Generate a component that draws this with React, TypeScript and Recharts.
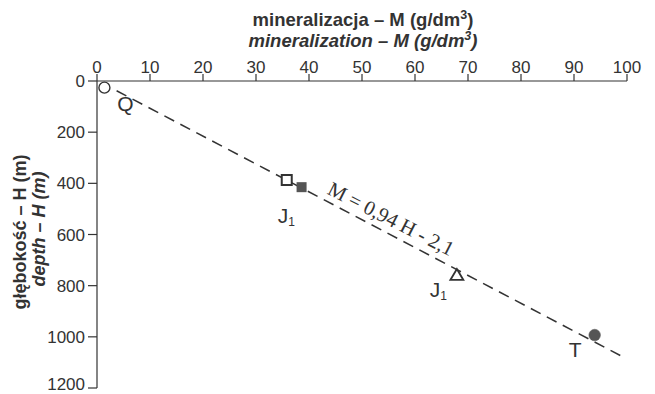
import React from "react";
import {
  ScatterChart,
  Scatter,
  XAxis,
  YAxis,
  ReferenceLine,
  Customized,
} from "recharts";

// mineralization M (g/dm3) vs depth H (m)
const xTicks = [0, 10, 20, 30, 40, 50, 60, 70, 80, 90, 100];
const yTicks = [0, 200, 400, 600, 800, 1000, 1200];

const quaternary = [{ x: 1.4, y: 26 }];
const jurassicOpen = [{ x: 35.8, y: 387 }];
const jurassicFilled = [{ x: 38.6, y: 415 }];
const jurassicTriangle = [{ x: 67.9, y: 758 }];
const triassic = [{ x: 93.9, y: 993 }];

const trendLine = [
  { x: 3.7, y: 38 },
  { x: 99.2, y: 1078 },
];

const pointLabels = [
  { x: 3.8, y: 117, text: "Q", sub: "" },
  { x: 34.1, y: 555, text: "J", sub: "1" },
  { x: 62.8, y: 844, text: "J", sub: "1" },
  { x: 89.0, y: 1079, text: "T", sub: "" },
];

const equation = [{ x: 54.9, y: 563, text: "M = 0,94 H - 2,1" }];

const INK = "#333";
const FILL = "#555";
const SANS = "'Liberation Sans', Arial, sans-serif";

const OpenCircle = (p: any) => (
  <circle cx={p.cx} cy={p.cy} r={5.5} fill="#fff" stroke={INK} strokeWidth={1.4} />
);
const FilledCircle = (p: any) => (
  <circle cx={p.cx} cy={p.cy} r={5.8} fill={FILL} stroke={FILL} strokeWidth={0.5} />
);
const OpenSquare = (p: any) => (
  <rect x={p.cx - 5} y={p.cy - 5} width={10} height={10} fill="#fff" stroke={INK} strokeWidth={2} />
);
const FilledSquare = (p: any) => (
  <rect x={p.cx - 5} y={p.cy - 5} width={10} height={10} fill={FILL} />
);
const OpenTriangle = (p: any) => (
  <path
    d={`M${p.cx},${p.cy - 6} L${p.cx + 6.5},${p.cy + 5} L${p.cx - 6.5},${p.cy + 5} Z`}
    fill="#fff"
    stroke={INK}
    strokeWidth={1.8}
  />
);

const PointLabel = (p: any) => (
  <text x={p.cx} y={p.cy} fill={INK} fontFamily={SANS} fontSize={21} textAnchor="start">
    {p.payload.text}
    {p.payload.sub ? (
      <tspan fontSize={12} dy={3}>
        {p.payload.sub}
      </tspan>
    ) : null}
  </text>
);

const EquationLabel = (p: any) => (
  <text
    x={p.cx}
    y={p.cy}
    fill={INK}
    fontFamily="'Liberation Serif', 'Times New Roman', serif"
    fontSize={20.5}
    textAnchor="middle"
    transform={`rotate(27 ${p.cx} ${p.cy})`}
  >
    {p.payload.text}
  </text>
);

const Titles = () => (
  <g fill={INK} fontFamily={SANS} fontWeight="bold">
    <text x={363} y={26} fontSize={18.5} textAnchor="middle">
      mineralizacja – M (g/dm
      <tspan fontSize={12.5} dy={-7}>3</tspan>
      <tspan dy={7}>)</tspan>
    </text>
    <text x={363} y={47} fontSize={18.5} fontStyle="italic" textAnchor="middle">
      mineralization – M (g/dm
      <tspan fontSize={12.5} dy={-7}>3</tspan>
      <tspan dy={7}>)</tspan>
    </text>
    <text x={26} y={232} fontSize={18} textAnchor="middle" transform="rotate(-90 26 232)">
      głębokość – H (m)
    </text>
    <text x={45} y={229} fontSize={18} fontStyle="italic" textAnchor="middle" transform="rotate(-90 45 229)">
      depth – H (m)
    </text>
  </g>
);

export default function App() {
  return (
    <div style={{ position: "absolute", left: 0, top: 0, background: "#fff" }}>
      <ScatterChart
        width={655}
        height={394}
        margin={{ top: 51, right: 28, bottom: 6, left: 47 }}
      >
        <XAxis
          type="number"
          dataKey="x"
          orientation="top"
          domain={[0, 100]}
          ticks={xTicks}
          height={30}
          tickSize={7}
          tickMargin={1}
          axisLine={{ stroke: INK, strokeWidth: 1.2 }}
          tickLine={{ stroke: INK, strokeWidth: 1.2 }}
          tick={{ fill: INK, fontSize: 17, fontFamily: SANS }}
          allowDataOverflow
        />
        <YAxis
          type="number"
          dataKey="y"
          domain={[0, 1200]}
          ticks={yTicks}
          reversed
          width={50}
          tickSize={9}
          tickMargin={3}
          axisLine={{ stroke: INK, strokeWidth: 1.2 }}
          tickLine={{ stroke: INK, strokeWidth: 1.2 }}
          tick={{ fill: INK, fontSize: 17, fontFamily: SANS }}
          allowDataOverflow
        />
        <ReferenceLine
          segment={trendLine}
          stroke={INK}
          strokeWidth={1.5}
          strokeDasharray="11 7"
          ifOverflow="visible"
        />
        <Scatter data={quaternary} shape={OpenCircle} isAnimationActive={false} />
        <Scatter data={jurassicOpen} shape={OpenSquare} isAnimationActive={false} />
        <Scatter data={jurassicFilled} shape={FilledSquare} isAnimationActive={false} />
        <Scatter data={jurassicTriangle} shape={OpenTriangle} isAnimationActive={false} />
        <Scatter data={triassic} shape={FilledCircle} isAnimationActive={false} />
        <Scatter data={pointLabels} shape={PointLabel} isAnimationActive={false} />
        <Scatter data={equation} shape={EquationLabel} isAnimationActive={false} />
        <Customized component={Titles} />
      </ScatterChart>
    </div>
  );
}
